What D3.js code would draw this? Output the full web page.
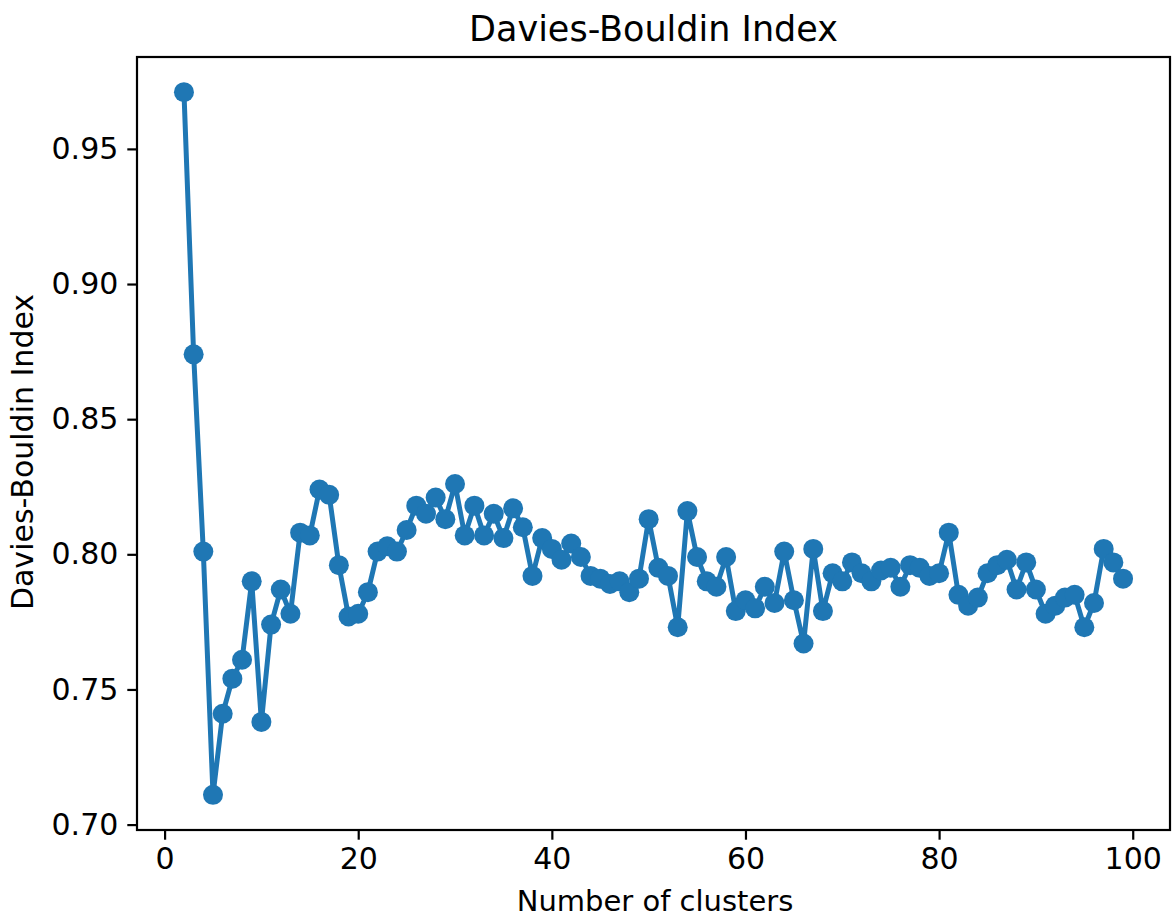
<!DOCTYPE html>
<html>
<head>
<meta charset="utf-8">
<script src="https://cdn.jsdelivr.net/npm/d3@7"></script>
<style>
  body { margin: 0; background: #fff; }
  text { font-family: "DejaVu Sans", sans-serif; fill: #000; }
</style>
</head>
<body>
<div id="chart"></div>
<script>
// number of clusters tried
const clusters = d3.range(2, 100);
// Davies-Bouldin index
const dbIndex = [
  0.971, 0.874, 0.801, 0.711, 0.741, 0.754, 0.761, 0.790, 0.738, 0.774,
  0.787, 0.778, 0.808, 0.807, 0.824, 0.822, 0.796, 0.777, 0.778, 0.786,
  0.801, 0.803, 0.801, 0.809, 0.818, 0.815, 0.821, 0.813, 0.826, 0.807,
  0.818, 0.807, 0.815, 0.806, 0.817, 0.810, 0.792, 0.806, 0.802, 0.798,
  0.804, 0.799, 0.792, 0.791, 0.789, 0.790, 0.786, 0.791, 0.813, 0.795,
  0.792, 0.773, 0.816, 0.799, 0.790, 0.788, 0.799, 0.779, 0.783, 0.780,
  0.788, 0.782, 0.801, 0.783, 0.767, 0.802, 0.779, 0.793, 0.790, 0.797,
  0.793, 0.790, 0.794, 0.795, 0.788, 0.796, 0.795, 0.792, 0.793, 0.808,
  0.785, 0.781, 0.784, 0.793, 0.796, 0.798, 0.787, 0.797, 0.787, 0.778,
  0.781, 0.784, 0.785, 0.773, 0.782, 0.802, 0.797, 0.791
];
const xTicks = [0, 20, 40, 60, 80, 100];
const yTicks = [0.70, 0.75, 0.80, 0.85, 0.90, 0.95];

const W = 1172, H = 917;
const margin = {top: 57, right: 2, bottom: 87, left: 137};
const w = W - margin.left - margin.right,
      h = H - margin.top - margin.bottom;

const svg = d3.select("#chart").append("svg")
  .attr("width", W).attr("height", H);
const g = svg.append("g")
  .attr("transform", `translate(${margin.left},${margin.top})`);

// matplotlib style 5% padding
const xPad = (99 - 2) * 0.05;
const x = d3.scaleLinear().domain([2 - xPad, 99 + xPad]).range([0, w]);
const yMin = d3.min(dbIndex), yMax = d3.max(dbIndex);
const yPad = (yMax - yMin) * 0.05;
const y = d3.scaleLinear().domain([yMin - yPad, yMax + yPad]).range([h, 0]);

const fs = 30;

const xAxis = g.append("g")
  .attr("transform", `translate(0,${h})`)
  .call(d3.axisBottom(x).tickValues(xTicks).tickFormat(d3.format("d"))
    .tickSizeInner(9.7).tickSizeOuter(0).tickPadding(8));
const yAxis = g.append("g")
  .call(d3.axisLeft(y).tickValues(yTicks).tickFormat(d3.format(".2f"))
    .tickSizeInner(9.7).tickSizeOuter(0).tickPadding(9));
[xAxis, yAxis].forEach(a => {
  a.select(".domain").remove();
  a.selectAll(".tick line").attr("stroke", "#000").attr("stroke-width", 2.2);
  a.selectAll(".tick text").style("font-size", fs + "px")
    .style("font-family", "'DejaVu Sans', sans-serif");
});

// line + markers
const pts = clusters.map((c, i) => [c, dbIndex[i]]);
g.append("path")
  .datum(pts)
  .attr("fill", "none")
  .attr("stroke", "#1f77b4")
  .attr("stroke-width", 5)
  .attr("stroke-linejoin", "round")
  .attr("d", d3.line().x(d => x(d[0])).y(d => y(d[1])));
g.append("g").selectAll("circle")
  .data(pts).enter().append("circle")
  .attr("cx", d => x(d[0]))
  .attr("cy", d => y(d[1]))
  .attr("r", 10)
  .attr("fill", "#1f77b4");

// frame
g.append("rect")
  .attr("width", w).attr("height", h)
  .attr("fill", "none").attr("stroke", "#000").attr("stroke-width", 2.2);

// title and labels
svg.append("text")
  .attr("x", margin.left + w / 2).attr("y", 41)
  .attr("text-anchor", "middle")
  .style("font-size", "35px")
  .text("Davies-Bouldin Index");
svg.append("text")
  .attr("x", 655).attr("y", 911)
  .attr("text-anchor", "middle")
  .style("font-size", "29px")
  .text("Number of clusters");
svg.append("text")
  .attr("transform", `translate(33,452) rotate(-90)`)
  .attr("text-anchor", "middle")
  .style("font-size", fs + "px")
  .text("Davies-Bouldin Index");
</script>
</body>
</html>
